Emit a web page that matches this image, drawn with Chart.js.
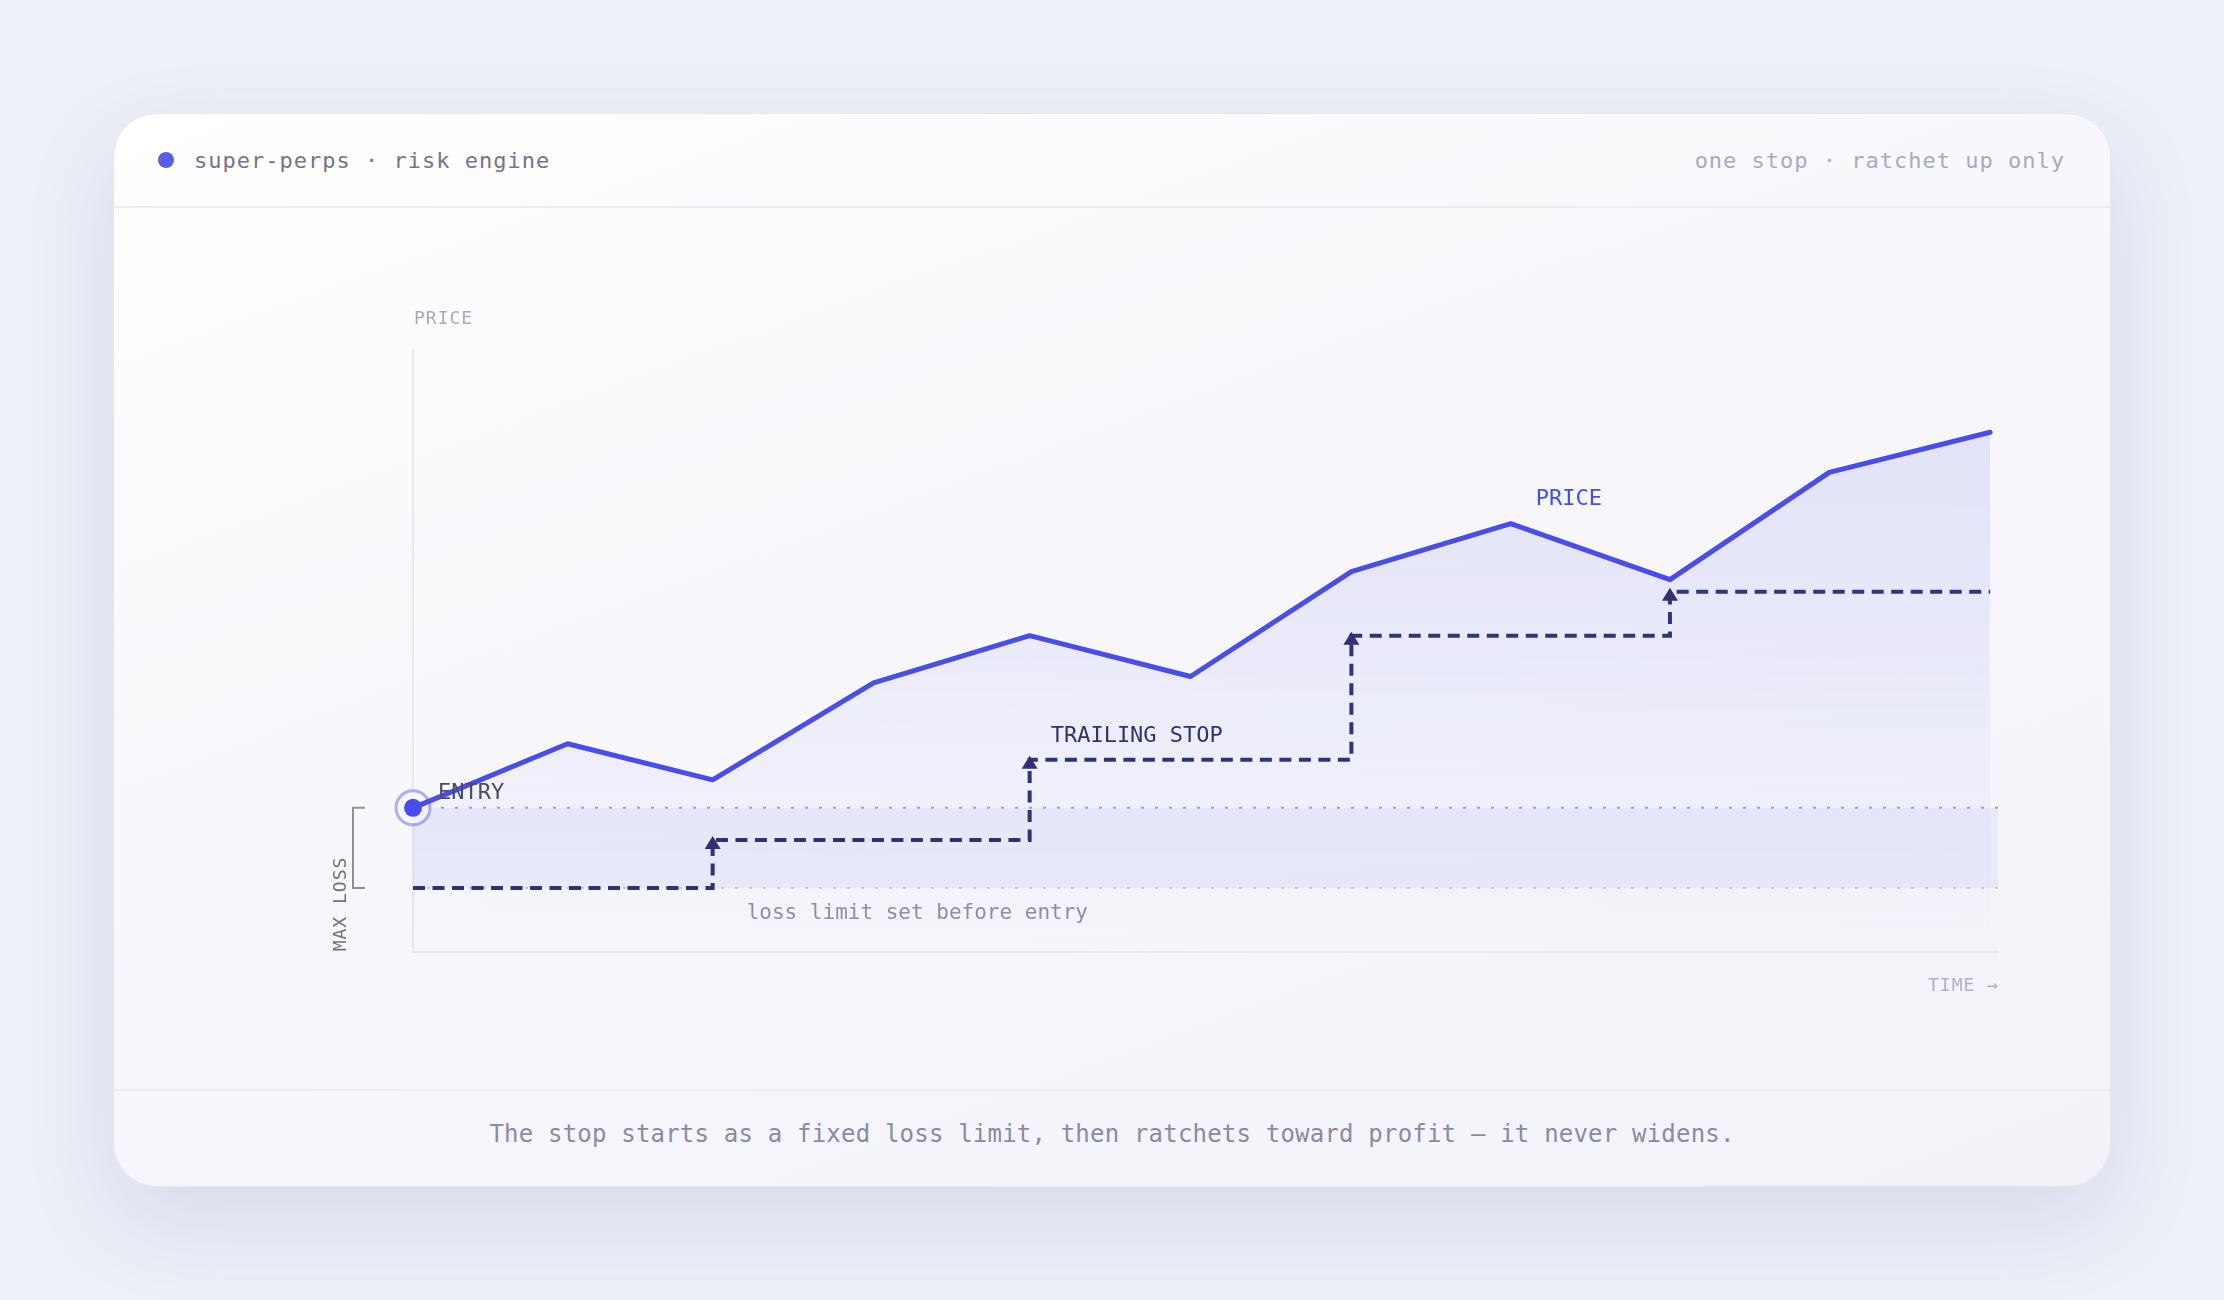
<!DOCTYPE html>
<html>
<head>
<meta charset="utf-8">
<script src="https://cdn.jsdelivr.net/npm/chart.js@4.4.1/dist/chart.umd.min.js"></script>
<style>
  html, body { margin: 0; padding: 0; }
  body {
    width: 2224px; height: 1300px; overflow: hidden;
    background: #eef0f8;
    font-family: "DejaVu Sans Mono", monospace;
  }
  .card {
    position: absolute; left: 113px; top: 113px;
    width: 1996px; height: 1072px;
    border: 1px solid #e5e6ef; border-radius: 44px;
    background: linear-gradient(160deg, #ffffff 0%, #f7f7fc 45%, #f2f3f9 100%);
    box-shadow: 0 34px 90px rgba(64, 66, 130, 0.13);
    overflow: hidden;
  }
  .head {
    position: absolute; left: 0; top: 0; right: 0; height: 92px;
    border-bottom: 2px solid #ebebf3;
    display: flex; align-items: center; justify-content: space-between;
    padding: 0 45px 0 44px;
    font-size: 22px; letter-spacing: 1px;
  }
  .brand { display: flex; align-items: center; color: #74748c; }
  .brand i {
    display: inline-block; width: 16px; height: 16px; border-radius: 50%;
    background: #5b5ee8; margin-right: 20px;
  }
  .note { color: #a9a9c0; }
  .plot { position: absolute; left: 0; top: 98px; width: 1996px; height: 876px; }
  .foot {
    position: absolute; left: 0; right: 0; bottom: 0; height: 97px;
    border-top: 2px solid #ebebf3;
    display: flex; align-items: center; justify-content: center;
    padding-bottom: 10px; box-sizing: border-box;
    font-size: 24px; letter-spacing: 0.2px; color: #8a8aa2;
  }
</style>
</head>
<body>
<div class="card">
  <div class="head">
    <div class="brand"><i></i>super-perps · risk engine</div>
    <div class="note">one stop · ratchet up only</div>
  </div>
  <div class="plot"><canvas id="stopChart"></canvas></div>
  <div class="foot">The stop starts as a fixed loss limit, then ratchets toward profit — it never widens.</div>
</div>

<script>
// time steps (x) and values
const times = [0, 0.98, 1.9, 2.92, 3.91, 4.93, 5.95, 6.96, 7.97, 8.98, 10];
const price = [100, 108, 103.5, 115.6, 121.5, 116.4, 129.5, 135.5, 128.5, 141.9, 146.9];
const stop = [90, 90, 96, 96, 106, 106, 121.5, 121.5, 127, 127, 127];
const entryLevel = 100;
const lossLimit = 90;
const timeSpan = [0, 10.05];
const priceRange = [82, 157.3];

const MONO = '"DejaVu Sans Mono", monospace';
const BLUE = '#4a4ded';
const NAVY = '#2f3172';

const xy = (xs, ys) => xs.map((t, i) => ({ x: t, y: ys[i] }));
const flat = (level) => timeSpan.map(t => ({ x: t, y: level }));

function text(ctx, str, x, y, size, color, align, spacing) {
    ctx.save();
    ctx.font = size + 'px ' + MONO;
    ctx.fillStyle = color;
    ctx.textAlign = align || 'left';
    ctx.textBaseline = 'middle';
    ctx.letterSpacing = spacing || '0px';
    ctx.fillText(str, x, y);
    ctx.restore();
}

const overlay = {
    id: 'overlay',
    beforeDatasetsDraw(chart) {
        const { ctx, chartArea: a } = chart;
        ctx.save();
        ctx.strokeStyle = '#e0e1ed';
        ctx.lineWidth = 1.5;
        ctx.beginPath();
        ctx.moveTo(a.left, a.top);
        ctx.lineTo(a.left, a.bottom);
        ctx.lineTo(a.right, a.bottom);
        ctx.stroke();
        ctx.restore();
    },
    afterDatasetsDraw(chart) {
        const { ctx, chartArea: a, scales: { x, y } } = chart;
        const pts = chart.getDatasetMeta(0).data;
        const stp = chart.getDatasetMeta(1).data;

        // ratchet arrows where the stop moves up
        ctx.save();
        ctx.fillStyle = NAVY;
        for (let i = 1; i < stop.length; i++) {
            if (stop[i] > stop[i - 1]) {
                const p = stp[i];
                ctx.beginPath();
                ctx.moveTo(p.x, p.y - 4);
                ctx.lineTo(p.x + 8, p.y + 9);
                ctx.lineTo(p.x - 8, p.y + 9);
                ctx.closePath();
                ctx.fill();
            }
        }
        ctx.restore();

        // max loss bracket
        const yTop = y.getPixelForValue(entryLevel), yBot = y.getPixelForValue(lossLimit);
        const bx = a.left - 60;
        ctx.save();
        ctx.strokeStyle = '#8d8da3';
        ctx.lineWidth = 2;
        ctx.beginPath();
        ctx.moveTo(bx + 12, yTop);
        ctx.lineTo(bx, yTop);
        ctx.lineTo(bx, yBot);
        ctx.lineTo(bx + 12, yBot);
        ctx.stroke();
        ctx.restore();

        ctx.save();
        ctx.translate(a.left - 72, a.bottom - 48);
        ctx.rotate(-Math.PI / 2);
        text(ctx, 'MAX LOSS', 0, 0, 18, '#6f6f85', 'center', '1px');
        ctx.restore();

        // axis titles
        text(ctx, 'PRICE', a.left + 1, a.top - 30, 18, '#a9a9bd', 'left', '1px');
        text(ctx, 'TIME →', a.right + 1, a.bottom + 34, 18, '#b0b0c4', 'right', '1px');

        // series labels
        text(ctx, 'ENTRY', pts[0].x + 25, pts[0].y - 15, 22, '#4b4b5f');
        text(ctx, 'PRICE', pts[7].x + 25, pts[7].y - 24, 22, BLUE);
        text(ctx, 'TRAILING STOP', stp[4].x + 21, stp[4].y - 24, 22, NAVY);
        text(ctx, 'loss limit set before entry', x.getPixelForValue(times[2]) + 34, yBot + 26, 21, '#8e8ea4');
    }
};

new Chart(document.getElementById('stopChart'), {
    type: 'line',
    data: {
        datasets: [
            {
                label: 'price',
                data: xy(times, price),
                borderColor: BLUE,
                borderWidth: 5,
                borderJoinStyle: 'round',
                borderCapStyle: 'round',
                tension: 0,
                fill: 'start',
                backgroundColor: (c) => {
                    const area = c.chart.chartArea;
                    if (!area) return 'transparent';
                    const g = c.chart.ctx.createLinearGradient(0, area.top, 0, area.bottom);
                    g.addColorStop(0, 'rgba(84, 88, 235, 0.14)');
                    g.addColorStop(1, 'rgba(84, 88, 235, 0.0)');
                    return g;
                },
                pointRadius: price.map((v, i) => i === 0 ? 9 : 0),
                pointBackgroundColor: BLUE,
                pointBorderWidth: 0,
                clip: false,
                order: 0
            },
            {
                label: 'stop',
                data: xy(times, stop),
                borderColor: NAVY,
                borderWidth: 4,
                borderDash: [12, 7.5],
                stepped: 'before',
                fill: false,
                pointRadius: 0,
                order: 1
            },
            {
                label: 'entry ring',
                data: [{ x: times[0], y: entryLevel }],
                showLine: false,
                pointRadius: 17,
                pointBackgroundColor: 'rgba(246, 246, 255, 0.9)',
                pointBorderColor: 'rgba(99, 102, 241, 0.5)',
                pointBorderWidth: 3,
                clip: false,
                order: 2
            },
            {
                label: 'entry',
                data: flat(entryLevel),
                borderColor: '#a2a3b8',
                borderWidth: 2,
                borderDash: [3, 11],
                pointRadius: 0,
                fill: '+1',
                backgroundColor: 'rgba(99, 102, 241, 0.075)',
                order: 3
            },
            {
                label: 'loss limit',
                data: flat(lossLimit),
                borderColor: '#cbcbda',
                borderWidth: 2,
                borderDash: [3, 11],
                pointRadius: 0,
                fill: false,
                order: 4
            }
        ]
    },
    options: {
        responsive: true,
        maintainAspectRatio: false,
        animation: false,
        events: [],
        layout: {
            padding: { left: 299, right: 112, top: 137, bottom: 136 }
        },
        scales: {
            x: { type: 'linear', display: false, min: timeSpan[0], max: timeSpan[1] },
            y: { display: false, min: priceRange[0], max: priceRange[1] }
        },
        plugins: {
            legend: { display: false },
            tooltip: { enabled: false }
        }
    },
    plugins: [overlay]
});
</script>
</body>
</html>
